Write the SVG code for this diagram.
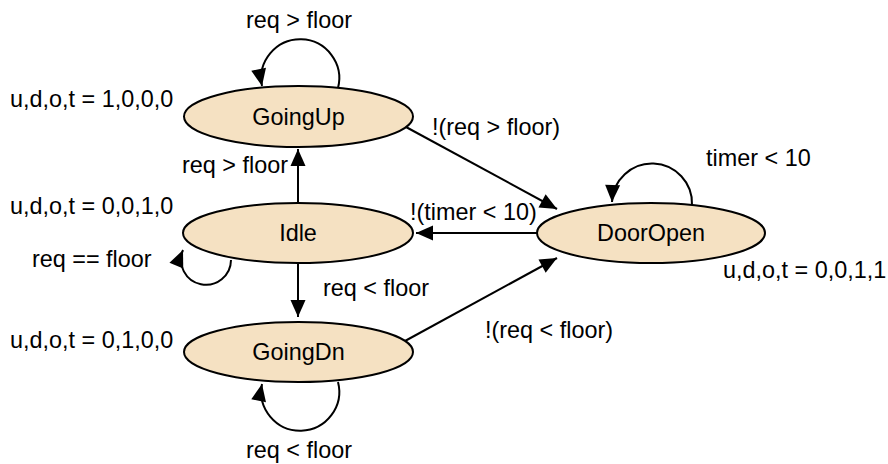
<svg xmlns="http://www.w3.org/2000/svg" width="888" height="464" viewBox="0 0 888 464">
<style>
.st{fill:#F5E1C2;stroke:#000;stroke-width:2}
.c{fill:none;stroke:#000;stroke-width:2}
text{font-family:"Liberation Sans",Arial,sans-serif;font-size:23.4px;fill:#000}
.m{text-anchor:middle}
.e{text-anchor:end}
</style>
<defs>
<marker id="ah" markerUnits="userSpaceOnUse" markerWidth="20" markerHeight="20" viewBox="0 0 20 20" refX="18" refY="10" orient="auto">
<path d="M1,2.5 L18,10 L1,17.5 Z" fill="#000"/>
</marker>
</defs>
<rect width="888" height="464" fill="#fff"/>
<g id="connectors">
<path class="c" d="M338,88 A39,39 0 1 0 262,86" marker-end="url(#ah)"/>
<path class="c" d="M338,382 A39,39 0 1 1 262,384" marker-end="url(#ah)"/>
<path class="c" d="M692,205 A40,40 0 1 0 612,202" marker-end="url(#ah)"/>
<path class="c" d="M231,260 A25,25 0 1 1 183,250" marker-end="url(#ah)"/>
<line class="c" x1="298" y1="203" x2="298" y2="149" marker-end="url(#ah)"/>
<line class="c" x1="298" y1="263" x2="298" y2="317" marker-end="url(#ah)"/>
<line class="c" x1="537" y1="233" x2="416" y2="233" marker-end="url(#ah)"/>
<line class="c" x1="406" y1="127" x2="557" y2="209" marker-end="url(#ah)"/>
<line class="c" x1="405" y1="341" x2="557" y2="258" marker-end="url(#ah)"/>
<text class="m" x="299" y="28">req &gt; floor</text>
<text class="e" x="288" y="173">req &gt; floor</text>
<text x="323" y="296">req &lt; floor</text>
<text class="m" x="299" y="458">req &lt; floor</text>
<text x="32" y="267">req == floor</text>
<text x="432" y="135">!(req &gt; floor)</text>
<text x="410" y="220">!(timer &lt; 10)</text>
<text x="485" y="338">!(req &lt; floor)</text>
<text x="706" y="166">timer &lt; 10</text>
</g>
<g id="GoingUp">
<ellipse class="st" cx="298.5" cy="116.5" rx="114.5" ry="30.5"/>
<text class="m" x="298.5" y="125">GoingUp</text>
<text x="10" y="107">u,d,o,t = 1,0,0,0</text>
</g>
<g id="Idle">
<ellipse class="st" cx="298" cy="233" rx="115" ry="30"/>
<text class="m" x="298" y="241">Idle</text>
<text x="10" y="214">u,d,o,t = 0,0,1,0</text>
</g>
<g id="GoingDn">
<ellipse class="st" cx="298.5" cy="352" rx="114.5" ry="30"/>
<text class="m" x="298.5" y="360">GoingDn</text>
<text x="10" y="348">u,d,o,t = 0,1,0,0</text>
</g>
<g id="DoorOpen">
<ellipse class="st" cx="651" cy="233" rx="114" ry="30"/>
<text class="m" x="651" y="241">DoorOpen</text>
<text x="723" y="278">u,d,o,t = 0,0,1,1</text>
</g>
</svg>
